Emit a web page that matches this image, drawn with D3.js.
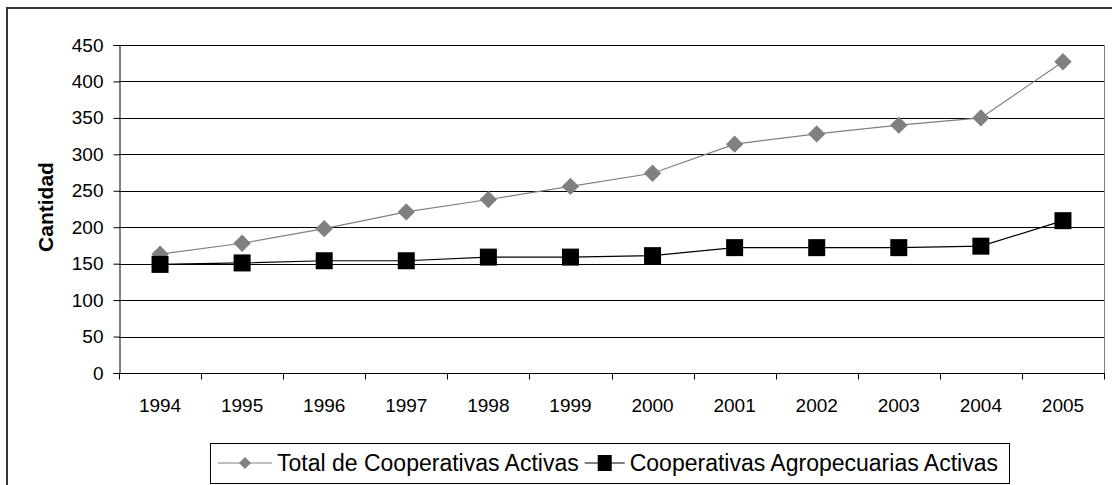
<!DOCTYPE html>
<html>
<head>
<meta charset="utf-8">
<script src="https://cdn.jsdelivr.net/npm/d3@7"></script>
<style>
  body { margin: 0; background: #fff; }
  svg { font-family: "Liberation Sans", Arial, sans-serif; }
</style>
</head>
<body>
<svg id="chart" width="1112" height="485"></svg>
<script>
// data
const years = ['1994','1995','1996','1997','1998','1999','2000','2001','2002','2003','2004','2005'];
const totalActivas = [163, 178, 198, 221, 238, 256, 274, 314, 328, 340, 350, 427];
const agroActivas  = [149, 151, 154, 154, 159, 159, 161, 172, 172, 172, 174, 209];
const yTicks = [0, 50, 100, 150, 200, 250, 300, 350, 400, 450];
const seriesNames = ['Total de Cooperativas Activas', 'Cooperativas Agropecuarias Activas'];

const svg = d3.select('#chart');

const plot = {left: 119, top: 45, right: 1104, bottom: 373};

// outer frame (cut off at the right and bottom like the original)
svg.append('rect')
  .attr('x', 7).attr('y', 8)
  .attr('width', 1200).attr('height', 600)
  .attr('fill', 'none')
  .attr('stroke', '#333')
  .attr('stroke-width', 2);

const x = d3.scaleBand()
  .domain(years)
  .range([plot.left, plot.right]);

const y = d3.scaleLinear()
  .domain([0, 450])
  .range([plot.bottom, plot.top]);

// gridlines
svg.append('g')
  .selectAll('line')
  .data(yTicks.filter(d => d > 0))
  .join('line')
  .attr('x1', plot.left).attr('x2', plot.right)
  .attr('y1', d => Math.round(y(d)) + 0.5)
  .attr('y2', d => Math.round(y(d)) + 0.5)
  .attr('stroke', '#000')
  .attr('stroke-width', 1);

// right border of the plot area
svg.append('line')
  .attr('x1', plot.right + 0.5).attr('x2', plot.right + 0.5)
  .attr('y1', plot.top).attr('y2', plot.bottom)
  .attr('stroke', '#808080');

// y axis
const yAxis = svg.append('g')
  .attr('transform', `translate(${plot.left + 0.5},0)`)
  .call(d3.axisLeft(y).tickValues(yTicks).tickSize(6).tickPadding(10));
yAxis.selectAll('text').attr('font-size', 19).attr('fill', '#000')
  .attr('font-family', '"Liberation Sans", Arial, sans-serif');
yAxis.selectAll('line').attr('stroke', '#000');
yAxis.select('.domain').attr('stroke', '#000');

// x axis (ticks at band edges)
const xAxis = svg.append('g')
  .attr('transform', `translate(0,${Math.round(plot.bottom) + 0.5})`);
xAxis.append('line')
  .attr('x1', plot.left).attr('x2', plot.right + 1)
  .attr('stroke', '#000');
xAxis.selectAll('.edge')
  .data(years.concat(['end']))
  .join('line')
  .attr('class', 'edge')
  .attr('x1', (d, i) => Math.round(plot.left + i * x.bandwidth()) + 0.5)
  .attr('x2', (d, i) => Math.round(plot.left + i * x.bandwidth()) + 0.5)
  .attr('y1', 0).attr('y2', 6)
  .attr('stroke', '#000');
xAxis.selectAll('text')
  .data(years)
  .join('text')
  .attr('x', d => x(d) + x.bandwidth() / 2)
  .attr('y', 38)
  .attr('text-anchor', 'middle')
  .attr('font-size', 19)
  .text(d => d);

// y axis title
svg.append('text')
  .attr('transform', 'translate(53,207) rotate(-90)')
  .attr('text-anchor', 'middle')
  .attr('font-size', 21)
  .attr('font-weight', 'bold')
  .text('Cantidad');

const line = d3.line()
  .x((d, i) => x(years[i]) + x.bandwidth() / 2)
  .y(d => y(d));

// total series
svg.append('path')
  .datum(totalActivas)
  .attr('d', line)
  .attr('fill', 'none')
  .attr('stroke', '#808080')
  .attr('stroke-width', 1.2);

const diamond = d3.symbol().type(d3.symbolSquare).size(150);
svg.append('g')
  .selectAll('path')
  .data(totalActivas)
  .join('path')
  .attr('d', diamond)
  .attr('transform', (d, i) => `translate(${x(years[i]) + x.bandwidth() / 2},${y(d)}) rotate(45)`)
  .attr('fill', '#808080');

// agro series
svg.append('path')
  .datum(agroActivas)
  .attr('d', line)
  .attr('fill', 'none')
  .attr('stroke', '#000')
  .attr('stroke-width', 1.2);

svg.append('g')
  .selectAll('rect')
  .data(agroActivas)
  .join('rect')
  .attr('x', (d, i) => x(years[i]) + x.bandwidth() / 2 - 8.5)
  .attr('y', d => y(d) - 8.5)
  .attr('width', 17).attr('height', 17)
  .attr('fill', '#000');

// legend
const legend = svg.append('g');
legend.append('rect')
  .attr('x', 210.5).attr('y', 443.5)
  .attr('width', 799).attr('height', 40)
  .attr('fill', '#fff')
  .attr('stroke', '#000');

const ly = 463;
legend.append('line')
  .attr('x1', 218).attr('x2', 272).attr('y1', ly).attr('y2', ly)
  .attr('stroke', '#808080').attr('stroke-width', 1.2);
legend.append('path')
  .attr('d', d3.symbol().type(d3.symbolSquare).size(72))
  .attr('transform', `translate(245,${ly}) rotate(45)`)
  .attr('fill', '#808080');
const t1 = legend.append('text')
  .attr('x', 277).attr('y', ly + 8)
  .attr('font-size', 23)
  .text(seriesNames[0]);

const x2 = 277 + t1.node().getComputedTextLength() + 6;
legend.append('line')
  .attr('x1', x2).attr('x2', x2 + 40).attr('y1', ly).attr('y2', ly)
  .attr('stroke', '#000').attr('stroke-width', 1.2);
legend.append('rect')
  .attr('x', x2 + 13).attr('y', ly - 8)
  .attr('width', 14).attr('height', 16)
  .attr('fill', '#000');
legend.append('text')
  .attr('x', x2 + 45).attr('y', ly + 8)
  .attr('font-size', 23)
  .text(seriesNames[1]);
</script>
</body>
</html>
